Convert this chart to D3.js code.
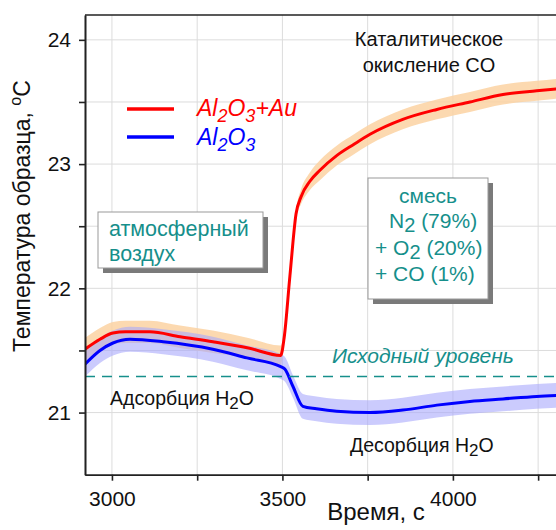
<!DOCTYPE html>
<html>
<head>
<meta charset="utf-8">
<script src="https://cdn.jsdelivr.net/npm/d3@7"></script>
<style>
  body { margin: 0; background: #fff; }
  text { font-family: "Liberation Sans", Arial, sans-serif; }
</style>
</head>
<body>
<svg id="chart" width="556" height="530"></svg>
<script>
// time, s  /  temperature, oC
const redTime = [2921, 2965, 3003, 3040, 3111, 3200, 3296, 3400, 3495, 3505, 3522, 3540, 3555, 3580, 3610, 3660, 3710, 3757, 3853, 3953, 4050, 4147, 4246, 4320];
const redTemp = [21.51, 21.59, 21.64, 21.65, 21.65, 21.61, 21.57, 21.52, 21.46, 21.6, 22.1, 22.6, 22.74, 22.86, 22.95, 23.07, 23.16, 23.24, 23.36, 23.44, 23.50, 23.56, 23.59, 23.61];
const redSpread = [0.09, 0.09, 0.09, 0.09, 0.09, 0.09, 0.09, 0.08, 0.08, 0.04, 0.03, 0.04, 0.06, 0.07, 0.08, 0.08, 0.08, 0.08, 0.08, 0.08, 0.08, 0.08, 0.08, 0.08];

const blueTime = [2921, 2965, 3003, 3053, 3150, 3296, 3396, 3495, 3507, 3531, 3560, 3600, 3659, 3757, 3853, 3953, 4050, 4147, 4246, 4320];
const blueTemp = [21.39, 21.50, 21.56, 21.59, 21.57, 21.51, 21.44, 21.37, 21.35, 21.21, 21.05, 21.03, 21.01, 21.00, 21.02, 21.06, 21.09, 21.11, 21.13, 21.14];
const blueSpread = [0.1, 0.1, 0.1, 0.1, 0.1, 0.1, 0.1, 0.1, 0.1, 0.09, 0.1, 0.1, 0.1, 0.1, 0.1, 0.1, 0.1, 0.1, 0.1, 0.1];

const baseLevel = 21.29;
const yMajor = [21, 22, 23, 24];
const yMinor = [21.5, 22.5, 23.5];
const xMajor = [3000, 3500, 4000];
const xMinor = [3250, 3750, 4250];

const teal = '#168f8b';

const svg = d3.select('#chart');
const pLeft = 85, pTop = 15, pBottom = 474.7, pRight = 562;

const x = d3.scaleLinear().domain([2921, 4320]).range([pLeft, pRight]);
const y = d3.scaleLinear().domain([20.5, 24.2]).range([pBottom, pTop]);

// grid
const grid = svg.append('g').attr('stroke', '#dcdcdc').attr('stroke-width', 1);
grid.selectAll('.gx').data(xMajor.concat(xMinor)).enter().append('line')
  .attr('x1', d => x(d)).attr('x2', d => x(d)).attr('y1', pTop).attr('y2', pBottom);
grid.selectAll('.gy').data(yMajor.concat(yMinor)).enter().append('line')
  .attr('x1', pLeft).attr('x2', pRight).attr('y1', d => y(d)).attr('y2', d => y(d));

svg.append('clipPath').attr('id', 'plot')
  .append('rect').attr('x', pLeft).attr('y', pTop).attr('width', pRight - pLeft).attr('height', pBottom - pTop);
const plot = svg.append('g').attr('clip-path', 'url(#plot)');

function series(time, temp, spread) {
  return time.map((t, i) => ({t: t, v: temp[i], s: spread[i]}));
}
const red = series(redTime, redTemp, redSpread);
const blue = series(blueTime, blueTemp, blueSpread);

const band = d3.area().curve(d3.curveMonotoneX).x(d => x(d.t)).y0(d => y(d.v - d.s)).y1(d => y(d.v + d.s));
const line = d3.line().curve(d3.curveMonotoneX).x(d => x(d.t)).y(d => y(d.v));

plot.append('path').datum(red).attr('d', band).attr('fill', '#fbd2a2').attr('opacity', 0.85);
plot.append('path').datum(blue).attr('d', band).attr('fill', '#a8a8fb').attr('opacity', 0.6);
plot.append('path').datum(red).attr('d', line).attr('fill', 'none').attr('stroke', '#ff0000').attr('stroke-width', 3);
plot.append('path').datum(blue).attr('d', line).attr('fill', 'none').attr('stroke', '#0000ff').attr('stroke-width', 3);

// initial level
plot.append('line')
  .attr('x1', pLeft).attr('x2', pRight).attr('y1', y(baseLevel)).attr('y2', y(baseLevel))
  .attr('stroke', teal).attr('stroke-width', 1.6).attr('stroke-dasharray', '10,7');

// axes
svg.append('g').attr('transform', 'translate(' + pLeft + ',0)')
  .call(d3.axisLeft(y).tickValues(yMajor).tickFormat(d3.format('d')).tickSize(6).tickPadding(8).tickSizeOuter(0));
svg.append('g').attr('transform', 'translate(' + pLeft + ',0)')
  .call(d3.axisLeft(y).tickValues(yMinor).tickFormat('').tickSize(6).tickSizeOuter(0));
svg.append('g').attr('transform', 'translate(0,' + pBottom + ')')
  .call(d3.axisBottom(x).tickValues(xMajor).tickFormat(d3.format('d')).tickSize(6).tickPadding(10).tickSizeOuter(0));
svg.append('g').attr('transform', 'translate(0,' + pBottom + ')')
  .call(d3.axisBottom(x).tickValues(xMinor).tickFormat('').tickSize(6).tickSizeOuter(0));
svg.selectAll('.domain, .tick line').attr('stroke', '#222').attr('stroke-width', 1.6);
svg.selectAll('.tick text').style('font-size', '21px').attr('fill', '#111');
svg.append('line').attr('x1', pLeft).attr('x2', pRight).attr('y1', pTop).attr('y2', pTop)
  .attr('stroke', '#222').attr('stroke-width', 1.6);

// axis titles
svg.append('text')
  .attr('transform', 'translate(30,' + 216 + ') rotate(-90)')
  .attr('text-anchor', 'middle').style('font-size', '23px').attr('fill', '#111')
  .call(t => {
    t.append('tspan').text('Температура образца, ');
    t.append('tspan').text('o').attr('dy', -9).style('font-size', '16px');
    t.append('tspan').text('C').attr('dy', 9);
  });
svg.append('text').attr('x', 376).attr('y', 520).attr('text-anchor', 'middle')
  .style('font-size', '24px').attr('fill', '#111').text('Время, с');

// text with subscripts: parts are [string, isSub]
function richText(g, px, py, parts, size, subSize, shift) {
  const t = g.append('text').attr('x', px).attr('y', py).style('font-size', size + 'px');
  let down = false;
  parts.forEach(p => {
    const s = t.append('tspan').text(p[0]);
    if (p[1] && !down) { s.attr('dy', shift).style('font-size', subSize + 'px'); down = true; }
    else if (!p[1] && down) { s.attr('dy', -shift); down = false; }
    else if (p[1]) s.style('font-size', subSize + 'px');
  });
  return t;
}

// legend
svg.append('line').attr('x1', 127).attr('x2', 174).attr('y1', 109).attr('y2', 109).attr('stroke', '#ff0000').attr('stroke-width', 3.5);
svg.append('line').attr('x1', 127).attr('x2', 174).attr('y1', 137).attr('y2', 137).attr('stroke', '#0000ff').attr('stroke-width', 3.5);
richText(svg, 197, 116, [['Al'], ['2', 1], ['O'], ['3', 1], ['+Au']], 23, 18, 6)
  .attr('fill', '#ff0000').style('font-style', 'italic');
richText(svg, 197, 145, [['Al'], ['2', 1], ['O'], ['3', 1]], 23, 18, 6)
  .attr('fill', '#0000ff').style('font-style', 'italic');

// boxes with shadow
function box(bx, by, bw, bh) {
  svg.append('rect').attr('x', bx + 5).attr('y', by + 5).attr('width', bw).attr('height', bh).attr('fill', '#7a7a7a');
  svg.append('rect').attr('x', bx).attr('y', by).attr('width', bw).attr('height', bh)
    .attr('fill', '#fff').attr('stroke', '#999').attr('stroke-width', 1);
}
box(98, 212, 165, 56);
svg.append('text').attr('x', 109).attr('y', 236).style('font-size', '21.5px').attr('fill', teal).text('атмосферный');
svg.append('text').attr('x', 109).attr('y', 261).style('font-size', '21.5px').attr('fill', teal).text('воздух');

box(368, 178, 120, 121);
svg.append('text').attr('x', 428).attr('y', 203).attr('text-anchor', 'middle').style('font-size', '21px').attr('fill', teal).text('смесь');
richText(svg, 389, 228, [['N'], ['2', 1], [' (79%)']], 21, 20, 4).attr('fill', teal);
richText(svg, 375, 255, [['+ O'], ['2', 1], [' (20%)']], 21, 20, 4).attr('fill', teal);
svg.append('text').attr('x', 375).attr('y', 281).style('font-size', '21px').attr('fill', teal).text('+ CO (1%)');

// annotations
svg.append('text').attr('x', 429).attr('y', 46).attr('text-anchor', 'middle').style('font-size', '20px').attr('fill', '#111').text('Каталитическое');
svg.append('text').attr('x', 429).attr('y', 72).attr('text-anchor', 'middle').style('font-size', '20px').attr('fill', '#111').text('окисление CO');
svg.append('text').attr('x', 332).attr('y', 363).style('font-size', '21px').style('font-style', 'italic').attr('fill', teal).text('Исходный уровень');
richText(svg, 110, 405, [['Адсорбция H'], ['2', 1], ['O']], 19.5, 17, 4).attr('fill', '#111');
richText(svg, 350, 452, [['Десорбция H'], ['2', 1], ['O']], 19.5, 17, 4).attr('fill', '#111');
</script>
</body>
</html>
